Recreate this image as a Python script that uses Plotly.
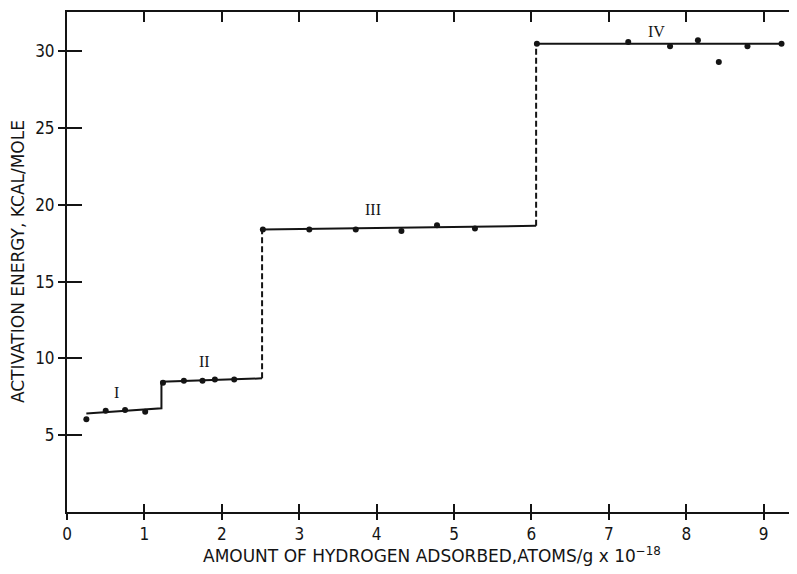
import plotly.graph_objects as go

# Measured points (amount adsorbed, activation energy)
points_x = [0.25, 0.50, 0.75, 1.01, 1.24, 1.51, 1.75, 1.91, 2.16,
            2.53, 3.13, 3.73, 4.32, 4.78, 5.27,
            6.07, 7.25, 7.79, 8.15, 8.42, 8.79, 9.23]
points_y = [6.03, 6.59, 6.64, 6.53, 8.42, 8.54, 8.54, 8.63, 8.63,
            18.39, 18.39, 18.39, 18.30, 18.67, 18.46,
            30.49, 30.60, 30.32, 30.71, 29.30, 30.32, 30.49]

# Step levels (solid parts)
solid_x = [0.25, 1.22, 1.22, 2.52, None, 2.52, 6.06, None, 6.06, 9.26]
solid_y = [6.42, 6.75, 8.48, 8.70, None, 18.39, 18.63, None, 30.49, 30.49]

# Dashed risers
dash_x = [2.52, 2.52, None, 6.06, 6.06]
dash_y = [8.70, 18.39, None, 18.63, 30.49]

# Region labels
region_labels = ["I", "II", "III", "IV"]
region_x = [0.64, 1.78, 3.95, 7.62]
region_y = [7.8, 9.8, 19.7, 31.3]

x_ticks = [0, 1, 2, 3, 4, 5, 6, 7, 8, 9]
y_ticks = [5, 10, 15, 20, 25, 30]
right_ticks = [5, 10, 15, 20]

INK = "#141414"
FONT = "Liberation Sans Narrow, DejaVu Sans Condensed, Liberation Sans, sans-serif"

fig = go.Figure()
fig.add_trace(go.Scatter(x=solid_x, y=solid_y, mode="lines",
                         line=dict(color=INK, width=2), showlegend=False,
                         hoverinfo="skip"))
fig.add_trace(go.Scatter(x=dash_x, y=dash_y, mode="lines",
                         line=dict(color=INK, width=2, dash="6px,3px"),
                         showlegend=False, hoverinfo="skip"))
fig.add_trace(go.Scatter(x=points_x, y=points_y, mode="markers",
                         marker=dict(color=INK, size=6), showlegend=False))
# helper traces to activate overlay axes
fig.add_trace(go.Scatter(x=[None], y=[None], xaxis="x2", yaxis="y2",
                         showlegend=False))
fig.add_trace(go.Scatter(x=[None], y=[None], xaxis="x3", yaxis="y3",
                         showlegend=False))

for t, xx, yy in zip(region_labels, region_x, region_y):
    fig.add_annotation(x=xx, y=yy, text=t, showarrow=False,
                       font=dict(family="Liberation Serif, DejaVu Serif, serif",
                                 size=16, color=INK))

XR = [0, 9.43]
YR = [0, 32.55]

fig.update_layout(
    width=789, height=566,
    margin=dict(l=59, r=0, t=4, b=62),
    plot_bgcolor="white", paper_bgcolor="white",
    showlegend=False,
    xaxis=dict(range=XR, tickvals=x_ticks, ticks="outside", ticklen=6,
               tickwidth=1.5, tickcolor=INK, showline=True, linewidth=2,
               linecolor=INK, showgrid=False, zeroline=False,
               tickfont=dict(family=FONT, size=17, color=INK)),
    xaxis2=dict(range=XR, overlaying="x", anchor="y2", side="bottom",
                tickvals=x_ticks, ticks="inside", ticklen=8, tickwidth=1.5,
                tickcolor=INK, showticklabels=False, showline=False,
                showgrid=False, zeroline=False),
    xaxis3=dict(range=XR, overlaying="x", anchor="y3", side="top",
                tickvals=x_ticks, ticks="inside", ticklen=10, tickwidth=1.5,
                tickcolor=INK, showticklabels=False, showline=True,
                linewidth=2, linecolor=INK, showgrid=False, zeroline=False),
    yaxis=dict(range=YR, tickvals=y_ticks, ticks="outside", ticklen=7,
               tickwidth=1.5, tickcolor=INK, showline=True, linewidth=2,
               linecolor=INK, showgrid=False, zeroline=False,
               tickfont=dict(family=FONT, size=17, color=INK)),
    yaxis2=dict(range=YR, overlaying="y", anchor="x2", side="left",
                tickvals=y_ticks, ticks="inside", ticklen=15, tickwidth=1.5,
                tickcolor=INK, showticklabels=False, showline=False,
                showgrid=False, zeroline=False),
    yaxis3=dict(range=YR, overlaying="y", anchor="x3", side="right",
                tickvals=right_ticks, ticks="inside", ticklen=5, tickwidth=1.5,
                tickcolor=INK, showticklabels=False, showline=False,
                showgrid=False, zeroline=False),
)

fig.add_annotation(xref="paper", yref="paper", x=-0.067, y=0.5,
                   text="ACTIVATION ENERGY, KCAL/MOLE", textangle=-90,
                   showarrow=False, xanchor="center", yanchor="middle",
                   font=dict(family="DejaVu Sans, sans-serif", size=17, color=INK))
fig.add_annotation(xref="paper", yref="paper", x=0.5, y=-0.086,
                   text="AMOUNT OF HYDROGEN ADSORBED,ATOMS/g x 10<sup>\u221218</sup>",
                   showarrow=False, xanchor="center", yanchor="middle",
                   font=dict(family="DejaVu Sans, sans-serif", size=17, color=INK))

fig.write_html("out.html")
